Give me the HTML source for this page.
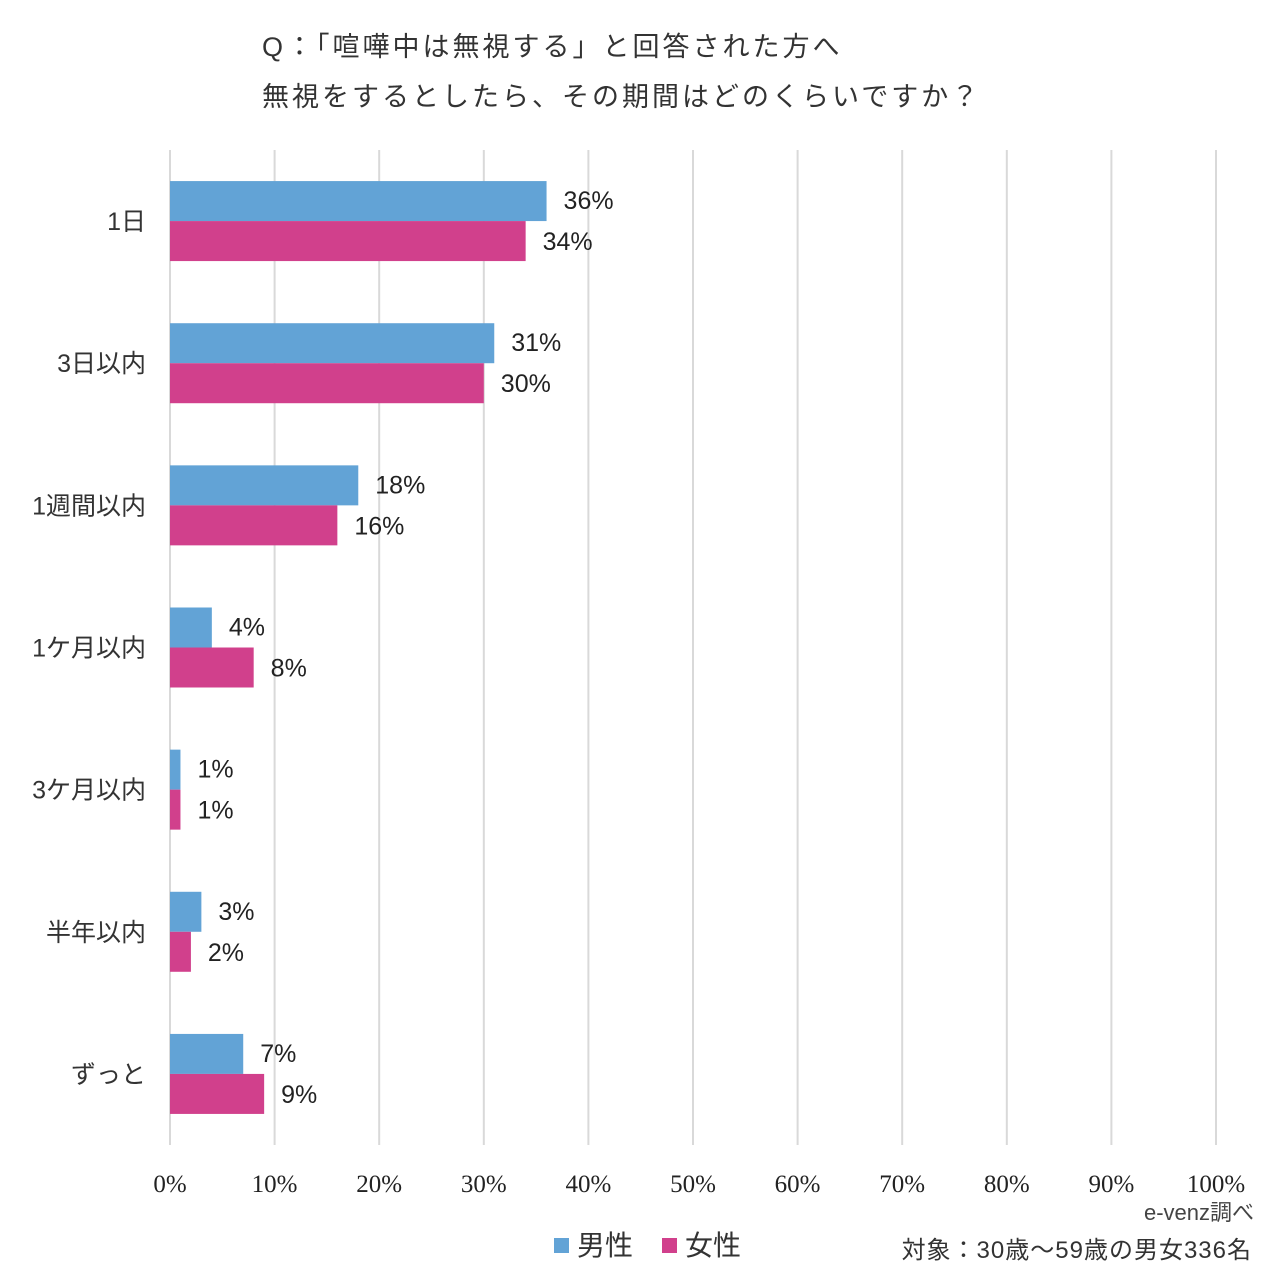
<!DOCTYPE html>
<html><head><meta charset="utf-8">
<style>
body{margin:0;background:#fff;}
svg{display:block;font-family:"Liberation Sans","Noto Sans CJK JP",sans-serif;}
</style></head>
<body>
<svg id="chart" width="1280" height="1280" viewBox="0 0 1280 1280">
<text x="262" y="56" font-size="27" fill="#333" letter-spacing="3">Q：「喧嘩中は無視する」と回答された方へ</text>
<text x="262" y="106" font-size="27" fill="#333" letter-spacing="3">無視をするとしたら、その期間はどのくらいですか？</text>
<g id="grid"></g><g id="bars"></g><g id="labels"></g>
<g>
<rect x="554" y="1238" width="15" height="15" fill="#62a3d6"/>
<text x="577" y="1255" font-size="28" fill="#333">男性</text>
<rect x="662" y="1238" width="15" height="15" fill="#d1408c"/>
<text x="685" y="1255" font-size="28" fill="#333">女性</text>
</g>
<text x="1254" y="1220" font-size="22" fill="#444" text-anchor="end">e-venz調べ</text>
<text x="1252" y="1258" font-size="24" fill="#333" text-anchor="end" letter-spacing="1">対象：30歳～59歳の男女336名</text>
</svg>
<script>
const categories=["1日","3日以内","1週間以内","1ケ月以内","3ケ月以内","半年以内","ずっと"];
const male=[36,31,18,4,1,3,7];
const female=[34,30,16,8,1,2,9];
const ticks=[0,10,20,30,40,50,60,70,80,90,100];
(function(){
const NS="http://www.w3.org/2000/svg";
const x0=170,x1=1216,plotTop=150,plotBottom=1145;
const xs=v=>x0+(x1-x0)*v/100;
const band=(plotBottom-plotTop)/categories.length;
const cy=i=>plotTop+band*(i+0.5);
function mk(t,a,p){const e=document.createElementNS(NS,t);for(const k in a)e.setAttribute(k,a[k]);p.appendChild(e);return e;}
const g=document.getElementById('grid'),b=document.getElementById('bars'),l=document.getElementById('labels');
ticks.forEach(t=>{
const ln=mk('line',{x1:xs(t),x2:xs(t),y1:plotTop,y2:plotBottom,stroke:'#d9d9d9','stroke-width':2},g);


const tx=mk('text',{x:xs(t),y:1192,'font-size':25,'text-anchor':'middle',fill:'#222','font-family':'"Liberation Serif","Noto Serif CJK SC",serif'},l);
tx.textContent=t+'%';


});
categories.forEach((c,i)=>{
const y=cy(i);
const ct=mk('text',{x:146,y:y+9,'font-size':25,'text-anchor':'end',fill:'#333'},l);
ct.textContent=c;


const r1=mk('rect',{x:x0,y:y-40,width:xs(male[i])-x0,height:40,fill:'#62a3d6'},b);


const r2=mk('rect',{x:x0,y:y,width:xs(female[i])-x0,height:40,fill:'#d1408c'},b);


const t1=mk('text',{x:xs(male[i])+17,y:y-12,'font-size':25,fill:'#222'},l);
t1.textContent=male[i]+'%';


const t2=mk('text',{x:xs(female[i])+17,y:y+29,'font-size':25,fill:'#222'},l);
t2.textContent=female[i]+'%';


});
})();
</script>
</body></html>
